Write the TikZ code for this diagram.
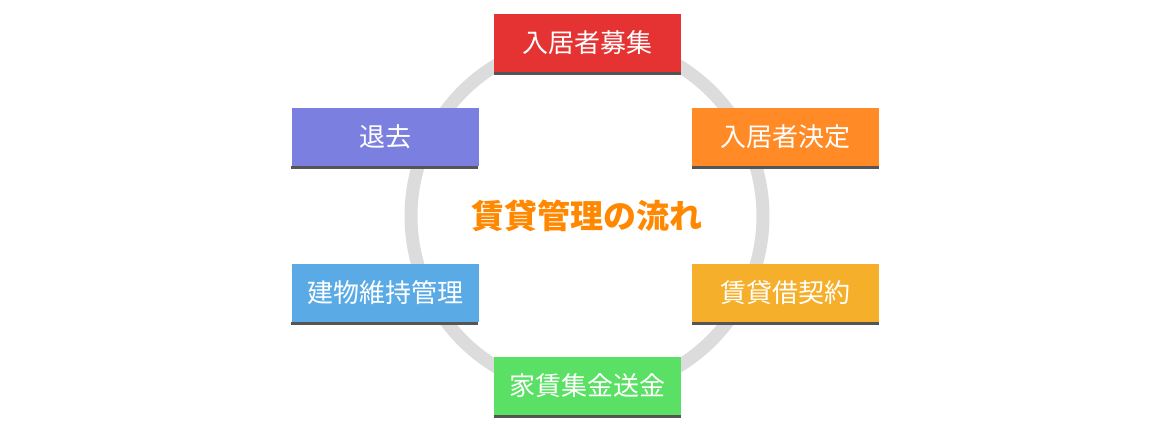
\documentclass[tikz,border=0pt]{standalone}
\usepackage{fontspec}
\newfontfamily\cjk{Noto Sans CJK JP}
\definecolor{ringgray}{HTML}{DCDCDC}
\definecolor{barcol}{HTML}{555555}
\definecolor{cred}{HTML}{E53333}
\definecolor{corange}{HTML}{FF8A26}
\definecolor{cpurple}{HTML}{7B7FE0}
\definecolor{cyellow}{HTML}{F5AF2A}
\definecolor{cblue}{HTML}{5AAAE6}
\definecolor{cgreen}{HTML}{5AE065}
\definecolor{ctitle}{HTML}{FF8800}
\tikzset{
  x=1pt, y=-1pt,
  stepbox/.style={rectangle, minimum width=187pt, minimum height=58pt, inner sep=0pt,
    text=white, font=\cjk\fontsize{26}{30}\selectfont,
    append after command={\pgfextra{\fill[barcol] (\tikzlastnode.south west) rectangle ++(187pt,-3pt);}}},
  ring/.style={draw=ringgray, line width=13pt},
}
\begin{document}
\begin{tikzpicture}
\useasboundingbox (0,0) rectangle (1170,430);
\coordinate (c) at (587,216);
\draw[ring] (c) circle[radius=176pt];
\node[stepbox, fill=cred] (a) at (587.5,43) {入居者募集};
\node[stepbox, fill=corange] (b) at (785.5,137) {入居者決定};
\node[stepbox, fill=cyellow] (d) at (785.5,293) {賃貸借契約};
\node[stepbox, fill=cgreen] (e) at (587.5,386) {家賃集金送金};
\node[stepbox, fill=cblue] (f) at (385,293) {建物維持管理};
\node[stepbox, fill=cpurple] (g) at (385,137) {退去};
\node[text=ctitle, font=\cjk\bfseries\fontsize{33}{38}\selectfont] (t) at (c) {賃貸管理の流れ};
\end{tikzpicture}
\end{document}
